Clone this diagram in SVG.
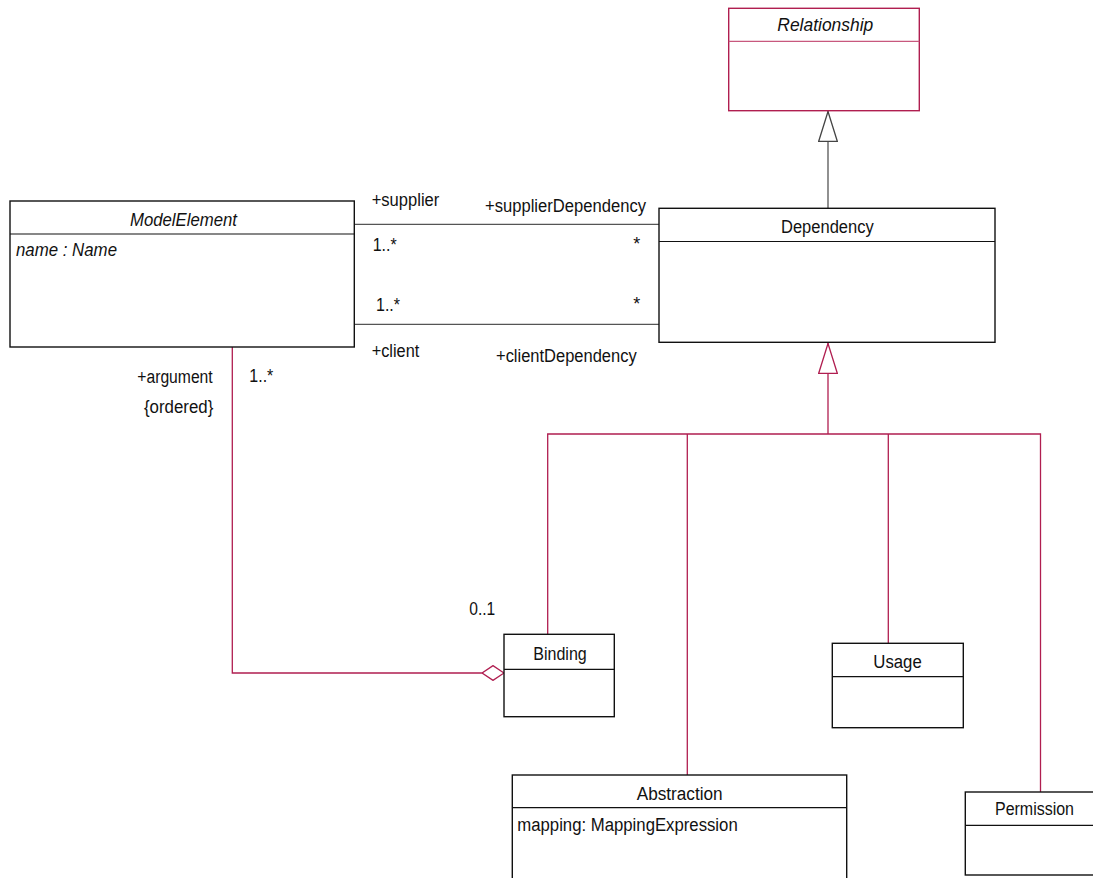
<svg xmlns="http://www.w3.org/2000/svg" width="1093" height="878" viewBox="0 0 1093 878">
<style>
  text { font-family: "Liberation Sans", Arial, sans-serif; font-size: 18px; fill: #111; }
  .it { font-style: italic; }
  .box { fill: #fff; stroke: #111; stroke-width: 1.4; }
  .sep { stroke: #111; stroke-width: 1.2; }
  .rbox { fill: #fff; stroke: #b01e50; stroke-width: 1.4; }
  .rsep { stroke: #c8587e; stroke-width: 1.2; }
  .assoc { fill: none; stroke: #555; stroke-width: 1.3; }
  .crim { fill: none; stroke: #b01e50; stroke-width: 1.3; }
</style>
<defs>
  <marker id="genGray" viewBox="0 0 31 20" refX="31" refY="10" markerWidth="31" markerHeight="20" markerUnits="userSpaceOnUse" orient="auto">
    <path d="M0.7,0.7 L30.5,10 L0.7,19.3 Z" fill="#fff" stroke="#444" stroke-width="1.3"/>
  </marker>
  <marker id="genCrim" viewBox="0 0 31 20" refX="31" refY="10" markerWidth="31" markerHeight="20" markerUnits="userSpaceOnUse" orient="auto">
    <path d="M0.7,0.7 L30.5,10 L0.7,19.3 Z" fill="#fff" stroke="#b01e50" stroke-width="1.3"/>
  </marker>
  <marker id="agg" viewBox="0 0 23 16" refX="22.5" refY="8" markerWidth="23" markerHeight="16" markerUnits="userSpaceOnUse" orient="auto">
    <path d="M0.6,8 L11.5,0.6 L22.5,8 L11.5,15.4 Z" fill="#fff" stroke="#b01e50" stroke-width="1.3"/>
  </marker>
</defs>

<g id="connectors">
  <path class="assoc" d="M828,208 L828,111" marker-end="url(#genGray)"/>
  <path class="assoc" d="M354,224.3 L659,224.3"/>
  <path class="assoc" d="M354,324.3 L659,324.3"/>
  <path class="crim" d="M828,434 L828,343" marker-end="url(#genCrim)"/>
  <path class="crim" d="M547.7,634 L547.7,434 L1040.5,434 L1040.5,792"/>
  <path class="crim" d="M687.3,434 L687.3,775"/>
  <path class="crim" d="M888.3,434 L888.3,643"/>
  <path class="crim" d="M232.3,347 L232.3,673 L504,673" marker-end="url(#agg)"/>
  <text x="371.7" y="205.7" textLength="67.6" lengthAdjust="spacingAndGlyphs">+supplier</text>
  <text x="485" y="211.7" textLength="161" lengthAdjust="spacingAndGlyphs">+supplierDependency</text>
  <text x="372.7" y="250.7" textLength="24" lengthAdjust="spacingAndGlyphs">1..*</text>
  <text x="633.3" y="250">*</text>
  <text x="376" y="310.7" textLength="24" lengthAdjust="spacingAndGlyphs">1..*</text>
  <text x="633.3" y="309.5">*</text>
  <text x="371.7" y="356.7" textLength="47.6" lengthAdjust="spacingAndGlyphs">+client</text>
  <text x="496" y="361.7" textLength="140.7" lengthAdjust="spacingAndGlyphs">+clientDependency</text>
  <text x="137.3" y="383" textLength="75.4" lengthAdjust="spacingAndGlyphs">+argument</text>
  <text x="144" y="413" textLength="69.3" lengthAdjust="spacingAndGlyphs">{ordered}</text>
  <text x="249.3" y="381.7" textLength="24" lengthAdjust="spacingAndGlyphs">1..*</text>
  <text x="469.3" y="615" textLength="26" lengthAdjust="spacingAndGlyphs">0..1</text>
</g>

<g id="Relationship">
  <rect class="rbox" x="728.7" y="8.3" width="190.6" height="102.4"/>
  <line class="rsep" x1="728.7" y1="41.3" x2="919.3" y2="41.3"/>
  <text class="it" x="777.3" y="31" textLength="96" lengthAdjust="spacingAndGlyphs">Relationship</text>
</g>

<g id="Dependency">
  <rect class="box" x="659" y="208.3" width="336" height="134"/>
  <line class="sep" x1="659" y1="241.5" x2="995" y2="241.5"/>
  <text x="781" y="232.5" textLength="92.7" lengthAdjust="spacingAndGlyphs">Dependency</text>
</g>

<g id="ModelElement">
  <rect class="box" x="10" y="201" width="344.3" height="146"/>
  <line class="sep" x1="10" y1="234" x2="354.3" y2="234"/>
  <text class="it" x="130" y="225.7" textLength="107" lengthAdjust="spacingAndGlyphs">ModelElement</text>
  <text class="it" x="16" y="255.7" textLength="101" lengthAdjust="spacingAndGlyphs">name : Name</text>
</g>

<g id="Binding">
  <rect class="box" x="504" y="634.3" width="110.3" height="82.4"/>
  <line class="sep" x1="504" y1="669.3" x2="614.3" y2="669.3"/>
  <text x="533.3" y="660" textLength="53.4" lengthAdjust="spacingAndGlyphs">Binding</text>
</g>

<g id="Usage">
  <rect class="box" x="832.3" y="643.3" width="131" height="84.4"/>
  <line class="sep" x1="832.3" y1="676.7" x2="963.3" y2="676.7"/>
  <text x="873.3" y="668.3" textLength="48.4" lengthAdjust="spacingAndGlyphs">Usage</text>
</g>

<g id="Abstraction">
  <rect class="box" x="512.3" y="775" width="334.4" height="120"/>
  <line class="sep" x1="512.3" y1="807.7" x2="846.7" y2="807.7"/>
  <text x="636.7" y="800" textLength="86" lengthAdjust="spacingAndGlyphs">Abstraction</text>
  <text x="517.3" y="830.7" textLength="220.4" lengthAdjust="spacingAndGlyphs">mapping: MappingExpression</text>
</g>

<g id="Permission">
  <rect class="box" x="965.3" y="792" width="139" height="83"/>
  <line class="sep" x1="965.3" y1="825.3" x2="1104.3" y2="825.3"/>
  <text x="995" y="815" textLength="79" lengthAdjust="spacingAndGlyphs">Permission</text>
</g>
</svg>
